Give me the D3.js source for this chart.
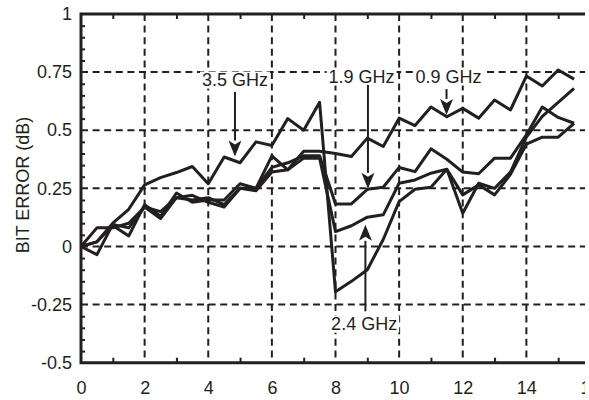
<!DOCTYPE html>
<html>
<head>
<meta charset="utf-8">
<script src="https://cdn.jsdelivr.net/npm/d3@7"></script>
<style>
  body { margin: 0; background: #fff; }
  text { font-family: "Liberation Sans", Arial, Helvetica, sans-serif; fill: #231f20; }
</style>
</head>
<body>
<script>
// sample positions along the x axis
var xs = [0, 0.5, 1, 1.5, 2, 2.5, 3, 3.5, 4, 4.5, 5, 5.5, 6, 6.5, 7, 7.5,
          8, 8.5, 9, 9.5, 10, 10.5, 11, 11.5, 12, 12.5, 13, 13.5, 14, 14.5, 15, 15.5];

// bit error (dB) per frequency
var ghz09 = [0, 0.08, 0.08, 0.10, 0.17, 0.15, 0.21, 0.20, 0.21, 0.18, 0.25, 0.25, 0.39, 0.33, 0.41, 0.41,
             0.40, 0.387, 0.466, 0.43, 0.552, 0.52, 0.60, 0.558, 0.594, 0.552, 0.63, 0.587, 0.733, 0.69, 0.759, 0.72];
var ghz19 = [0, 0.02, 0.09, 0.045, 0.18, 0.13, 0.23, 0.19, 0.20, 0.20, 0.27, 0.25, 0.34, 0.36, 0.39, 0.39,
             0.183, 0.183, 0.246, 0.255, 0.34, 0.322, 0.42, 0.375, 0.32, 0.313, 0.38, 0.38, 0.48, 0.60, 0.555, 0.53];
var ghz24 = [0, -0.035, 0.095, 0.08, 0.17, 0.12, 0.21, 0.22, 0.19, 0.17, 0.25, 0.24, 0.32, 0.33, 0.38, 0.38,
             0.064, 0.089, 0.126, 0.136, 0.272, 0.286, 0.315, 0.332, 0.222, 0.265, 0.222, 0.31, 0.44, 0.47, 0.47, 0.53];
var ghz35 = [0, 0.02, 0.10, 0.16, 0.265, 0.296, 0.318, 0.344, 0.27, 0.385, 0.36, 0.45, 0.434, 0.55, 0.50, 0.62,
             -0.195, -0.15, -0.10, 0.03, 0.193, 0.246, 0.255, 0.332, 0.143, 0.272, 0.25, 0.32, 0.47, 0.56, 0.62, 0.68];

var xTicks = [0, 2, 4, 6, 8, 10, 12, 14, 16];
var xMinor = [1, 3, 5, 7, 9, 11, 13, 15];
var yTicks = [-0.5, -0.25, 0, 0.25, 0.5, 0.75, 1];
var yTickLabels = ["-0.5", "-0.25", "0", "0.25", "0.5", "0.75", "1"];
var yMinor = [-0.45, -0.4, -0.35, -0.3, -0.2, -0.15, -0.1, -0.05, 0.05, 0.1, 0.15, 0.2,
              0.3, 0.35, 0.4, 0.45, 0.55, 0.6, 0.65, 0.7, 0.8, 0.85, 0.9, 0.95];
var yTitle = "BIT ERROR (dB)";

// callouts: label, label centre x / baseline y, arrow start and tip (data units)
var callouts = [
  {label: "3.5 GHz", tx: 4.84, ty: 0.692, ax: 4.84, from: 0.665, to: 0.387},
  {label: "1.9 GHz", tx: 8.82, ty: 0.705, ax: 9.02, from: 0.695, to: 0.248},
  {label: "0.9 GHz", tx: 11.55, ty: 0.705, ax: 11.49, from: 0.677, to: 0.566},
  {label: "2.4 GHz", tx: 8.9, ty: -0.358, ax: 8.94, from: -0.279, to: 0.093}
];

var W = 589, H = 400;
var ink = "#231f20";

var x = d3.scaleLinear().domain([0, 16]).range([81, 590]);
var y = d3.scaleLinear().domain([-0.5, 1]).range([362.7, 14]);

var svg = d3.select("body").append("svg")
  .attr("width", W)
  .attr("height", H);

// the original is cut off on the right
svg.append("clipPath").attr("id", "cut")
  .append("rect").attr("x", 0).attr("y", 0).attr("width", 585).attr("height", H);

var root = svg.append("g").attr("clip-path", "url(#cut)");

// dashed grid
root.append("g").selectAll("line")
  .data(xTicks.filter(function(d) { return d > 0; }))
  .enter().append("line")
  .attr("x1", function(d) { return x(d); })
  .attr("x2", function(d) { return x(d); })
  .attr("y1", y(1)).attr("y2", y(-0.5))
  .attr("stroke", ink).attr("stroke-width", 2)
  .attr("stroke-dasharray", "7,4.6");

root.append("g").selectAll("line")
  .data(yTicks.filter(function(d) { return d > -0.5 && d < 1; }))
  .enter().append("line")
  .attr("x1", x(0)).attr("x2", x(16))
  .attr("y1", function(d) { return y(d); })
  .attr("y2", function(d) { return y(d); })
  .attr("stroke", ink).attr("stroke-width", 2)
  .attr("stroke-dasharray", "7,4.6");

// minor ticks pointing inward
root.append("g")
  .attr("transform", "translate(0," + y(-0.5) + ")")
  .call(d3.axisBottom(x).tickValues(xMinor).tickSize(-5).tickFormat(""))
  .call(function(g) { g.select(".domain").remove(); })
  .selectAll("line").attr("stroke", ink).attr("stroke-width", 2);

root.append("g")
  .attr("transform", "translate(0," + y(1) + ")")
  .call(d3.axisTop(x).tickValues(xMinor).tickSize(-5).tickFormat(""))
  .call(function(g) { g.select(".domain").remove(); })
  .selectAll("line").attr("stroke", ink).attr("stroke-width", 2);

root.append("g")
  .attr("transform", "translate(" + x(0) + ",0)")
  .call(d3.axisLeft(y).tickValues(yMinor).tickSize(-4).tickFormat(""))
  .call(function(g) { g.select(".domain").remove(); })
  .selectAll("line").attr("stroke", ink).attr("stroke-width", 2);

// data lines
var line = d3.line()
  .x(function(d) { return x(d[0]); })
  .y(function(d) { return y(d[1]); });

[ghz09, ghz19, ghz24, ghz35].forEach(function(s) {
  root.append("path")
    .datum(d3.zip(xs, s))
    .attr("d", line)
    .attr("fill", "none")
    .attr("stroke", ink)
    .attr("stroke-width", 3)
    .attr("stroke-linejoin", "round");
});

// frame: left, top, bottom
root.append("path")
  .attr("d", "M" + x(16) + "," + y(1) + "H" + x(0) + "V" + y(-0.5) + "H" + x(16))
  .attr("fill", "none").attr("stroke", ink).attr("stroke-width", 3);

// tick labels
var xAxis = root.append("g")
  .attr("transform", "translate(0," + y(-0.5) + ")")
  .call(d3.axisBottom(x).tickValues(xTicks).tickSize(0).tickPadding(19).tickFormat(d3.format("d")));
xAxis.select(".domain").remove();
xAxis.selectAll("text").style("font-size", "18px").attr("fill", ink);

var yAxis = root.append("g")
  .attr("transform", "translate(" + x(0) + ",0)")
  .call(d3.axisLeft(y).tickValues(yTicks).tickSize(0).tickPadding(9)
    .tickFormat(function(d, i) { return yTickLabels[i]; }));
yAxis.select(".domain").remove();
yAxis.selectAll("text").style("font-size", "18px").attr("fill", ink);

svg.append("text")
  .attr("transform", "translate(28.5,185) rotate(-90)")
  .attr("text-anchor", "middle")
  .style("font-size", "18px")
  .text(yTitle);

// callouts
callouts.forEach(function(c) {
  var g = root.append("g")
    .attr("transform", "translate(" + x(c.tx) + "," + y(c.ty) + ")");
  var t = g.append("text")
    .attr("text-anchor", "middle")
    .style("font-size", "18px")
    .text(c.label);
  var b = t.node().getBBox();
  g.insert("rect", "text")
    .attr("x", b.x - 2).attr("y", b.y + 2)
    .attr("width", b.width + 4).attr("height", b.height - 3)
    .attr("fill", "#fff");

  var ax = x(c.ax), y0 = y(c.from), y1 = y(c.to);
  var dir = y1 > y0 ? 1 : -1;
  var headLen = 16, headW = 6.5;
  root.append("line")
    .attr("x1", ax).attr("x2", ax)
    .attr("y1", y0).attr("y2", y1 - dir * headLen)
    .attr("stroke", ink).attr("stroke-width", 2);
  root.append("path")
    .attr("d", "M" + ax + "," + y1 +
      "L" + (ax - headW) + "," + (y1 - dir * headLen) +
      "L" + ax + "," + (y1 - dir * (headLen - 4)) +
      "L" + (ax + headW) + "," + (y1 - dir * headLen) + "Z")
    .attr("fill", ink);
});
</script>
</body>
</html>
